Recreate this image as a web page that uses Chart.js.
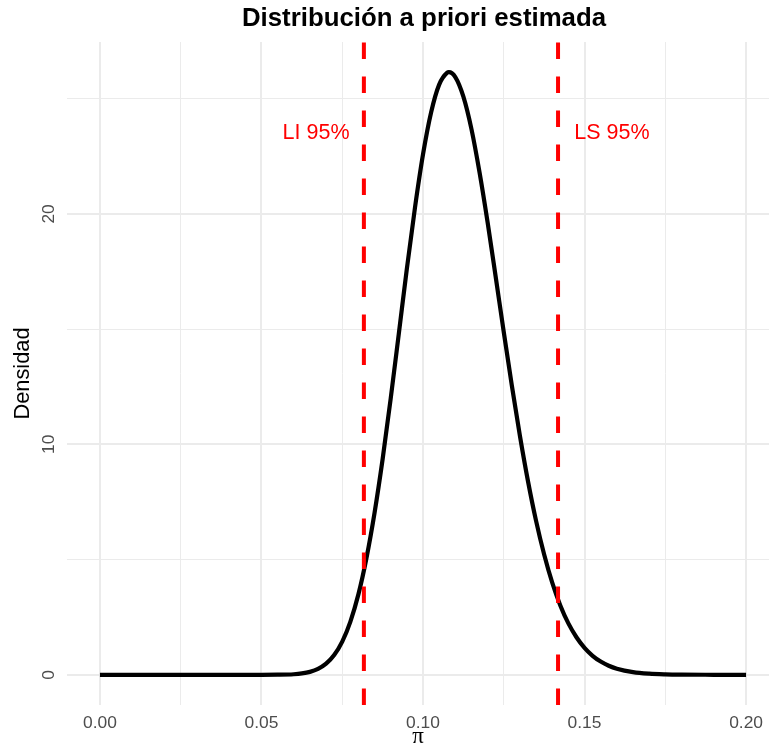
<!DOCTYPE html>
<html>
<head>
<meta charset="utf-8">
<script src="https://cdn.jsdelivr.net/npm/chart.js@4.4.1/dist/chart.umd.min.js"></script>
<style>
  html, body { margin: 0; padding: 0; background: #ffffff; }
  canvas { display: block; }
</style>
</head>
<body>
<canvas id="chart" width="769" height="752"></canvas>
<script>
// Prior density of π
const piValues = [0, 0.01, 0.02, 0.03, 0.04, 0.05, 0.055, 0.06, 0.0625, 0.065, 0.0675,
  0.07, 0.0725, 0.075, 0.0775, 0.08, 0.0825, 0.085, 0.0875, 0.09, 0.0925, 0.095, 0.0975,
  0.1, 0.1025, 0.105, 0.1075, 0.108, 0.11, 0.1125, 0.115, 0.1175, 0.12, 0.1225, 0.125,
  0.1275, 0.13, 0.1325, 0.135, 0.1375, 0.14, 0.1425, 0.145, 0.1475, 0.15, 0.1525, 0.155,
  0.1575, 0.16, 0.165, 0.17, 0.175, 0.18, 0.19, 0.2];
const density = [0, 0, 0, 0, 0, 0, 0.004, 0.025, 0.059, 0.127, 0.256,
  0.482, 0.857, 1.44, 2.30, 3.49, 5.07, 7.03, 9.36, 11.99, 14.79, 17.62, 20.26,
  22.58, 24.40, 25.61, 26.13, 26.15, 25.94, 25.09, 23.68, 21.80, 19.63, 17.27, 14.87,
  12.55, 10.37, 8.40, 6.68, 5.22, 4.00, 3.01, 2.23, 1.63, 1.17, 0.825, 0.574,
  0.394, 0.266, 0.116, 0.048, 0.019, 0.007, 0.001, 0];

// 95% interval limits
const intervalLimits = [0.0817, 0.1418];
const intervalLabels = ['LI 95%', 'LS 95%'];
const intervalLabelX = [0.0669, 0.1585];
const intervalLabelY = 23.5;

// Axis ticks (labelled and minor)
const xTicks = [0, 0.025, 0.05, 0.075, 0.1, 0.125, 0.15, 0.175, 0.2];
const xLabelled = [0, 0.05, 0.1, 0.15, 0.2];
const yTicks = [0, 5, 10, 15, 20, 25];
const yLabelled = [0, 10, 20];

const X_MIN = -0.0102, X_MAX = 0.2071;
const Y_MIN = -1.31, Y_MAX = 27.46;

const TITLE = 'Distribución a priori estimada';
const SANS = '"Liberation Sans", Arial, sans-serif';

const isIn = (list, v) => list.some(t => Math.abs(t - v) < 1e-9);

const vlineDataset = (x) => ({
  data: [{ x: x, y: Y_MIN }, { x: x, y: Y_MAX }],
  borderColor: '#FF0000',
  borderWidth: 4,
  borderDash: [16.5, 17.5],
  borderCapStyle: 'butt',
  pointRadius: 0,
  tension: 0,
  fill: false
});

// Title centred over the middle of the data range, and the interval labels
const annotations = {
  id: 'annotations',
  afterDraw(chart) {
    const { ctx, scales: { x, y } } = chart;
    ctx.save();
    ctx.fillStyle = '#000000';
    ctx.font = 'bold 25.8px ' + SANS;
    ctx.textAlign = 'center';
    ctx.textBaseline = 'middle';
    ctx.fillText(TITLE, x.getPixelForValue(0.1) + 1, 19);

    ctx.fillStyle = '#FF0000';
    ctx.font = '21.5px ' + SANS;
    intervalLabels.forEach((txt, i) => {
      ctx.fillText(txt, x.getPixelForValue(intervalLabelX[i]), y.getPixelForValue(intervalLabelY));
    });
    ctx.restore();
  }
};

new Chart(document.getElementById('chart'), {
  type: 'line',
  data: {
    datasets: [
      vlineDataset(intervalLimits[0]),
      vlineDataset(intervalLimits[1]),
      {
        data: piValues.map((p, i) => ({ x: p, y: density[i] })),
        borderColor: '#000000',
        borderWidth: 4.2,
        cubicInterpolationMode: 'monotone',
        pointRadius: 0,
        fill: false
      }
    ]
  },
  options: {
    responsive: false,
    animation: false,
    devicePixelRatio: 1,
    layout: { padding: { top: 42, right: 0, bottom: 0, left: 0 } },
    plugins: {
      legend: { display: false },
      tooltip: { enabled: false },
      title: { display: false }
    },
    scales: {
      x: {
        type: 'linear',
        min: X_MIN,
        max: X_MAX,
        afterBuildTicks: (s) => { s.ticks = xTicks.map(v => ({ value: v })); },
        afterFit: (s) => { s.height = 47; s.paddingLeft = 0; s.paddingRight = 0; },
        border: { display: false },
        grid: {
          color: '#EBEBEB',
          drawTicks: false,
          lineWidth: (c) => (c.tick && isIn(xLabelled, c.tick.value)) ? 2 : 1
        },
        ticks: {
          autoSkip: false,
          maxRotation: 0,
          minRotation: 0,
          padding: 8,
          color: '#4D4D4D',
          font: { family: SANS, size: 17.4 },
          callback: (v) => isIn(xLabelled, v) ? v.toFixed(2) : ''
        },
        title: {
          display: true,
          text: 'π',
          color: '#000000',
          font: { family: '"Liberation Serif", "DejaVu Serif", serif', size: 23 },
          padding: { top: 0, bottom: 1 }
        }
      },
      y: {
        type: 'linear',
        min: Y_MIN,
        max: Y_MAX,
        afterBuildTicks: (s) => { s.ticks = yTicks.map(v => ({ value: v })); },
        afterFit: (s) => { s.width = 67; s.paddingTop = 0; s.paddingBottom = 0; },
        border: { display: false },
        grid: {
          color: '#EBEBEB',
          drawTicks: false,
          lineWidth: (c) => (c.tick && isIn(yLabelled, c.tick.value)) ? 2 : 1
        },
        ticks: {
          autoSkip: false,
          minRotation: 90,
          maxRotation: 90,
          crossAlign: 'center',
          padding: 8,
          color: '#4D4D4D',
          font: { family: SANS, size: 17.4 },
          callback: (v) => isIn(yLabelled, v) ? String(v) : ''
        },
        title: {
          display: true,
          text: 'Densidad',
          color: '#000000',
          font: { family: SANS, size: 21.8 },
          padding: { top: 10, bottom: 0 }
        }
      }
    }
  },
  plugins: [annotations]
});
</script>
</body>
</html>
